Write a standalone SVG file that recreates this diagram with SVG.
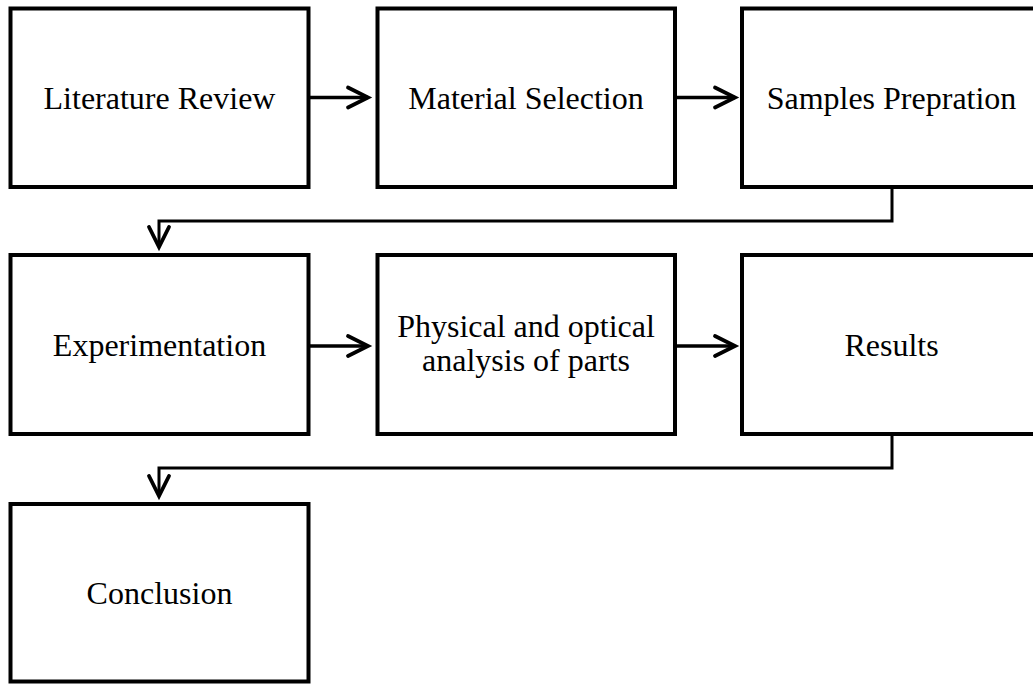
<svg xmlns="http://www.w3.org/2000/svg" width="1033" height="684" viewBox="0 0 1033 684">
  <style>
    .box { fill: #ffffff; stroke: #000000; stroke-width: 4; }
    .lbl { font-family: "Liberation Serif", "Times New Roman", serif; font-size: 32px; fill: #000000; text-anchor: middle; }
    .arrow { fill: none; stroke: #000000; stroke-width: 3.5; marker-end: url(#chev); }
    .elbow { fill: none; stroke: #000000; stroke-width: 3; marker-end: url(#chev); }
  </style>
  <defs>
    <marker id="chev" markerUnits="userSpaceOnUse" markerWidth="40" markerHeight="40" refX="0" refY="0" orient="auto" viewBox="-30 -20 40 40" overflow="visible">
      <path d="M-20,-10 L0,0 L-20,10" fill="none" stroke="#000000" stroke-width="3.8" stroke-linecap="round" stroke-linejoin="miter"/>
    </marker>
  </defs>
  <rect width="1033" height="684" fill="#ffffff"/>

  <g id="connectors">
    <path class="arrow" d="M308.5,97.5 L368,97.5"/>
    <path class="arrow" d="M675,97.5 L735,97.5"/>
    <path class="elbow" d="M892,187 L892,221 L159,221 L159,247"/>
    <path class="arrow" d="M308.5,346 L368,346"/>
    <path class="arrow" d="M675,346 L735,346"/>
    <path class="elbow" d="M892,434 L892,468 L159,468 L159,496"/>
  </g>

  <g id="literature-review">
    <rect class="box" x="10.5" y="8.5" width="298" height="178.5"/>
    <text class="lbl" x="159.5" y="108.5">Literature Review</text>
  </g>
  <g id="material-selection">
    <rect class="box" x="377.5" y="8.5" width="297.5" height="178.5"/>
    <text class="lbl" x="526" y="108.5">Material Selection</text>
  </g>
  <g id="samples-prepration">
    <rect class="box" x="742" y="8.5" width="298" height="178.5"/>
    <text class="lbl" x="891.5" y="108.5">Samples Prepration</text>
  </g>
  <g id="experimentation">
    <rect class="box" x="10.5" y="255" width="298" height="179"/>
    <text class="lbl" x="159.5" y="355.5">Experimentation</text>
  </g>
  <g id="physical-optical-analysis">
    <rect class="box" x="377.5" y="255" width="297.5" height="179"/>
    <text class="lbl" x="526" y="337">Physical and optical</text>
    <text class="lbl" x="526" y="371">analysis of parts</text>
  </g>
  <g id="results">
    <rect class="box" x="742" y="255" width="298" height="179"/>
    <text class="lbl" x="891.5" y="355.5">Results</text>
  </g>
  <g id="conclusion">
    <rect class="box" x="10.5" y="504" width="298" height="177.5"/>
    <text class="lbl" x="159.5" y="603.5">Conclusion</text>
  </g>
</svg>
